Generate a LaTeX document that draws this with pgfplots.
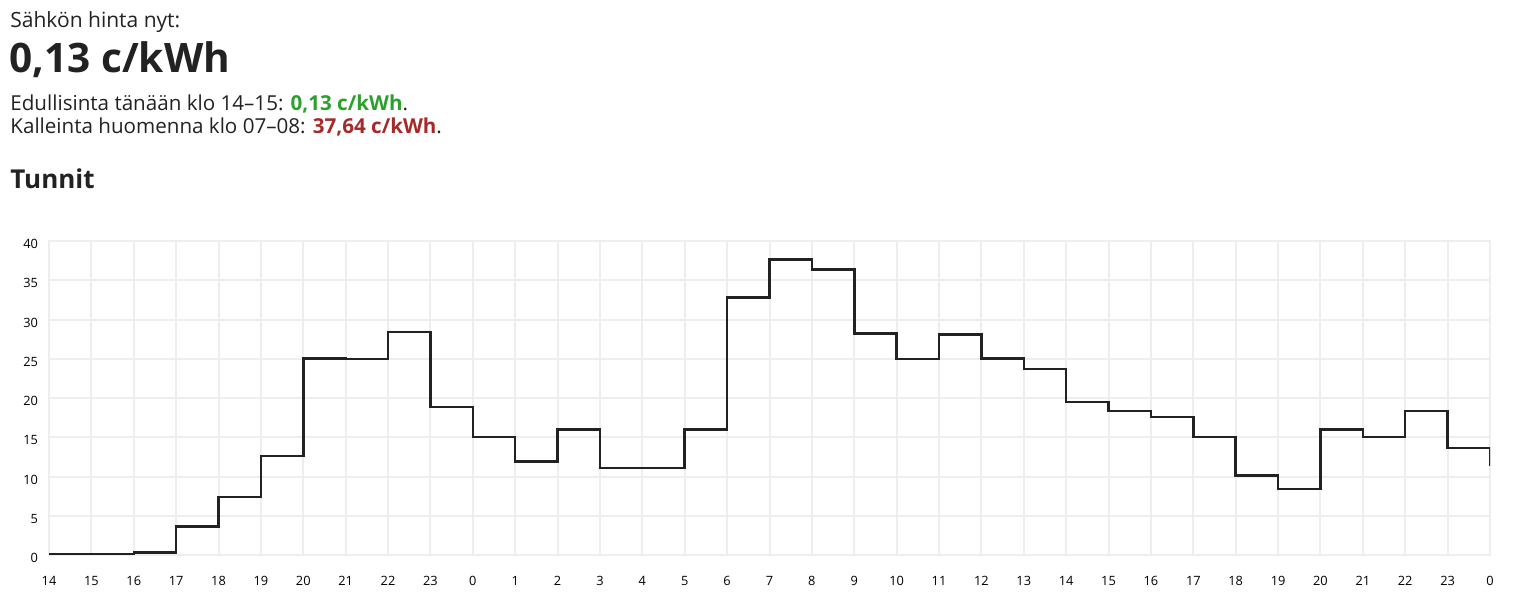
\documentclass[border=0pt]{standalone}
\usepackage{fontspec}
\setmainfont{Open Sans}
\usepackage{pgfplots}
\pgfplotsset{compat=1.18}
\definecolor{gridc}{HTML}{EEEEEE}
\definecolor{txt}{HTML}{222222}
\definecolor{cheap}{HTML}{2CA02C}
\definecolor{dear}{HTML}{A52A2A}

% hourly price, c/kWh, from 14 today to 0 the day after tomorrow
\pgfplotstableread{
h  p
0  0.13
1  0.15
2  0.30
3  3.65
4  7.42
5  12.64
6  25.06
7  24.94
8  28.40
9  18.87
10 15.01
11 11.92
12 15.99
13 11.07
14 11.07
15 15.99
16 32.82
17 37.64
18 36.34
19 28.24
20 24.94
21 28.07
22 25.06
23 23.71
24 19.51
25 18.36
26 17.60
27 15.01
28 10.14
29 8.40
30 15.99
31 15.01
32 18.36
33 13.61
34 11.37
}\prices

\begin{document}
\begin{tikzpicture}
\path[use as bounding box] (0pt,0pt) rectangle (763.5pt,-299pt);
\node[anchor=base west,inner sep=0,font=\fontsize{10.5}{12}\selectfont,text=txt] at (5pt,-14pt) {Sähkön hinta nyt:};
\node[anchor=base west,inner sep=0,font=\fontsize{20.3}{24}\selectfont\bfseries,text=txt] at (4.5pt,-36.5pt) {0,13 c/kWh};
\node[anchor=base west,inner sep=0,font=\fontsize{10.3}{12}\selectfont,text=txt] at (5pt,-55.5pt)
  {Edullisinta tänään klo 14–15: \textcolor{cheap}{\bfseries 0,13 c/kWh}.};
\node[anchor=base west,inner sep=0,font=\fontsize{10.3}{12}\selectfont,text=txt] at (5pt,-67pt)
  {Kalleinta huomenna klo 07–08: \textcolor{dear}{\bfseries 37,64 c/kWh}.};
\node[anchor=base west,inner sep=0,font=\fontsize{13}{15}\selectfont\bfseries,text=txt] at (5pt,-94.5pt) {Tunnit};
\begin{axis}[
    at={(24.5pt,-277.5pt)}, anchor=south west,
    scale only axis,
    width=720.5pt, height=157pt,
    xmin=0, xmax=34, ymin=0, ymax=40,
    xtick={0,...,34},
    xticklabels={14,15,16,17,18,19,20,21,22,23,0,1,2,3,4,5,6,7,8,9,10,11,12,13,14,15,16,17,18,19,20,21,22,23,0},
    ytick={0,5,...,40},
    grid=major,
    major grid style={draw=gridc, line width=1pt},
    axis line style={draw=gridc, line width=1pt},
    tick style={draw=none},
    /pgf/number format/assume math mode=true,
    ticklabel style={font=\fontsize{6.4}{7}\selectfont, text=black},
    xticklabel style={yshift=-7pt},
    yticklabel style={xshift=-2pt, yshift=-1.5pt},
]
\addplot[const plot, color=txt, line width=1.25pt] table[x=h, y=p] {\prices};
\end{axis}
\end{tikzpicture}
\end{document}
